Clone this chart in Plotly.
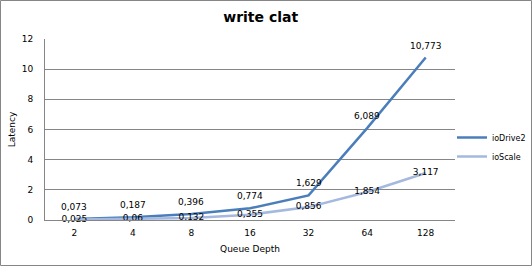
import plotly.graph_objects as go

categories = ["2", "4", "8", "16", "32", "64", "128"]
iodrive2 = [0.073, 0.187, 0.396, 0.774, 1.629, 6.089, 10.773]
ioscale = [0.025, 0.06, 0.132, 0.355, 0.856, 1.854, 3.117]
y_ticks = [0, 2, 4, 6, 8, 10, 12]

def fmt(v):
    return str(v).replace(".", ",")

W, H = 532, 266
L, R, T, B = 45, 77, 39, 46
pw, ph = W - L - R, H - T - B

font = dict(family="DejaVu Sans", size=9, color="#000000")

fig = go.Figure()
fig.add_trace(go.Scatter(
    x=categories, y=iodrive2, name="ioDrive2", mode="lines",
    line=dict(color="#4a7ebb", width=2.5),
))
fig.add_trace(go.Scatter(
    x=categories, y=ioscale, name="ioScale", mode="lines+text",
    line=dict(color="#a5b8de", width=2.5),
    text=[fmt(v) for v in ioscale], textposition="middle center",
    textfont=font, cliponaxis=False,
))

annotations = [
    dict(x=i, y=v, xref="x", yref="y", text=fmt(v), showarrow=False,
         yshift=12, font=font)
    for i, v in enumerate(iodrive2)
]

def px_x(p):
    return (p - L) / pw

def px_y(p):
    return (H - B - p) / ph

fig.update_layout(
    width=W, height=H,
    margin=dict(l=L, r=R, t=T, b=B, autoexpand=False),
    paper_bgcolor="white", plot_bgcolor="white",
    font=font,
    annotations=annotations,
    title=dict(text="<b>write clat</b>", x=0.49, xanchor="center",
               y=1 - 17 / H, yanchor="middle", yref="container",
               font=dict(family="DejaVu Sans", size=14, color="#000000")),
    xaxis=dict(type="category", range=[-0.5, 6.5], showgrid=False,
               showline=True, linecolor="#868686", linewidth=1,
               ticks="outside", ticklen=4, tickcolor="rgba(0,0,0,0)",
               tickfont=font,
               title=dict(text="Queue Depth", font=font, standoff=8)),
    yaxis=dict(range=[0, 12], tickvals=y_ticks, showgrid=True,
               gridcolor="#868686", gridwidth=1, showline=True,
               linecolor="#868686", linewidth=1, zeroline=False,
               ticks="outside", ticklen=9, tickcolor="rgba(0,0,0,0)",
               tickfont=font,
               title=dict(text="Latency", font=font, standoff=4)),
    legend=dict(x=px_x(452), y=px_y(123), xanchor="left", yanchor="top",
                font=dict(family="DejaVu Sans", size=8, color="#000000"),
                bgcolor="rgba(0,0,0,0)", tracegroupgap=0,
                itemwidth=30),
    showlegend=True,
    shapes=[dict(type="rect", xref="paper", yref="paper",
                 x0=px_x(0.5), x1=px_x(W - 0.5),
                 y0=px_y(H - 0.5), y1=px_y(0.5),
                 line=dict(color="#868686", width=1), layer="below")],
)

fig.write_html("out.html")
